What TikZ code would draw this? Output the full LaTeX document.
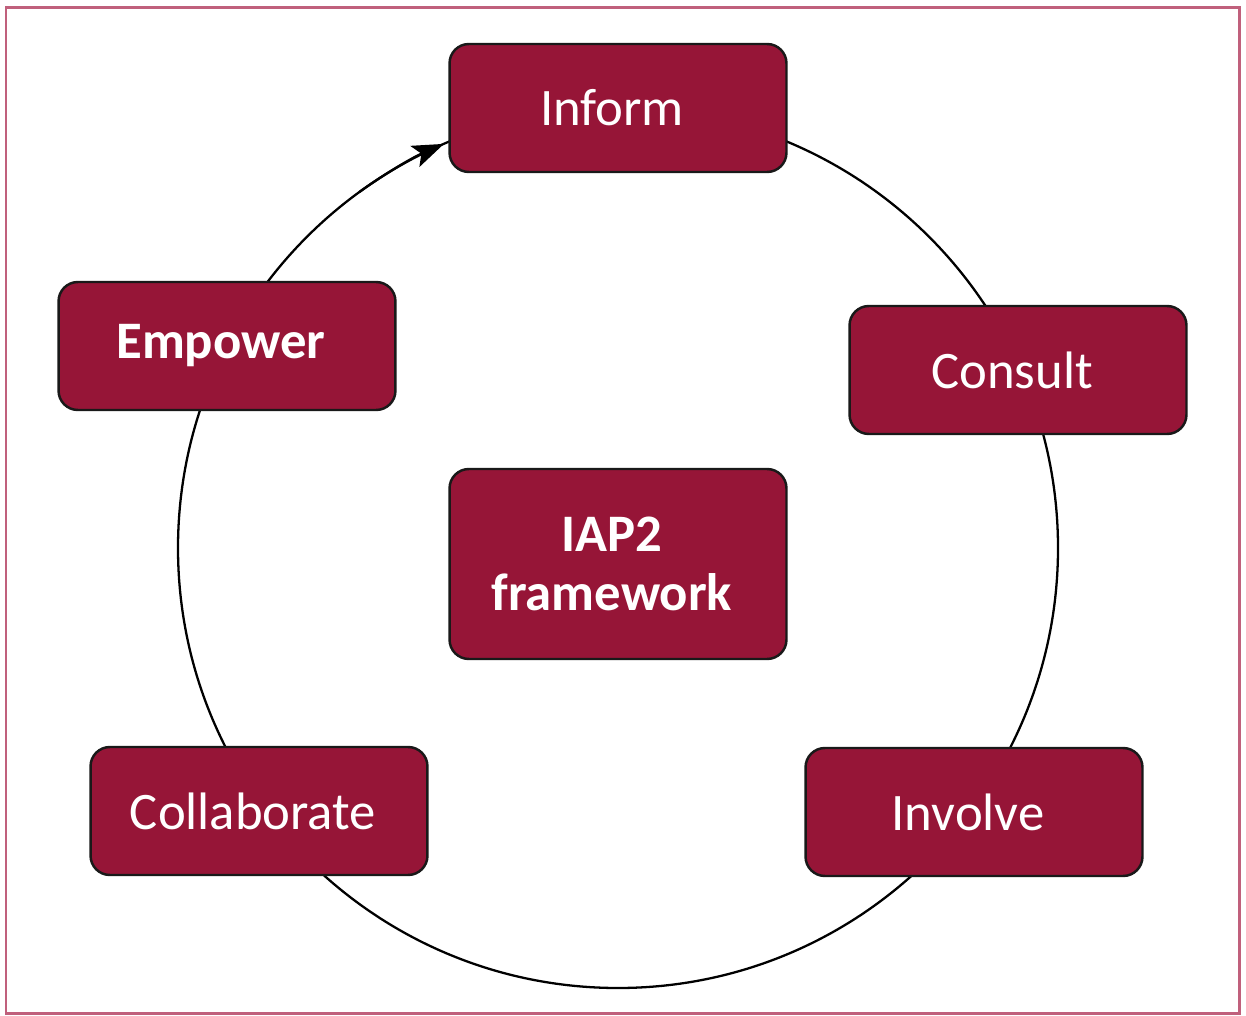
\documentclass[tikz,border=0pt]{standalone}
\usepackage{fontspec}
\setmainfont{Carlito}
\usepackage{tikz}
\usetikzlibrary{arrows.meta}
\definecolor{iapred}{RGB}{150,21,55}
\definecolor{framepink}{RGB}{192,96,124}

\begin{document}
\begin{tikzpicture}[x=0.02cm,y=0.02cm,
    box/.style={draw=black!90,line width=1.4pt,fill=iapred,rounded corners=11pt,
        minimum width=6.74cm,minimum height=2.56cm,text=white,
        font=\fontsize{30}{34}\selectfont,execute at begin node=\kern-0.24cm},
    hub/.style={box,minimum height=3.8cm,align=center,execute at begin node={},
        font=\fontsize{30}{34}\selectfont\bfseries}]
                \useasboundingbox (0,0) rectangle (1246,1015);
                \draw[framepink,line width=1.7pt] (6,2) rectangle (1239,1007);
                \coordinate (ctr) at (618,467);
                \draw[line width=1.3pt] (ctr) circle[radius=440];
                \draw[line width=1.3pt,-{Stealth[length=18pt,width=13pt,inset=4pt]}]
                    ([shift={(126:440)}]ctr) arc[start angle=126,end angle=113.3,radius=440];
                \node[box] (inform) at (618,907) {Inform};
                \node[box] (consult) at (1018,645) {Consult};
                \node[box] (involve) at (974,203) {Involve};
                \node[box] (collab) at (259,204) {Collaborate};
                \node[box,font=\fontsize{30}{34}\selectfont\bfseries] (empower) at (227,669) {Empower};
                \node[hub] (iap) at (618,451) {IAP2\\framework};
            \end{tikzpicture}
\end{document}
